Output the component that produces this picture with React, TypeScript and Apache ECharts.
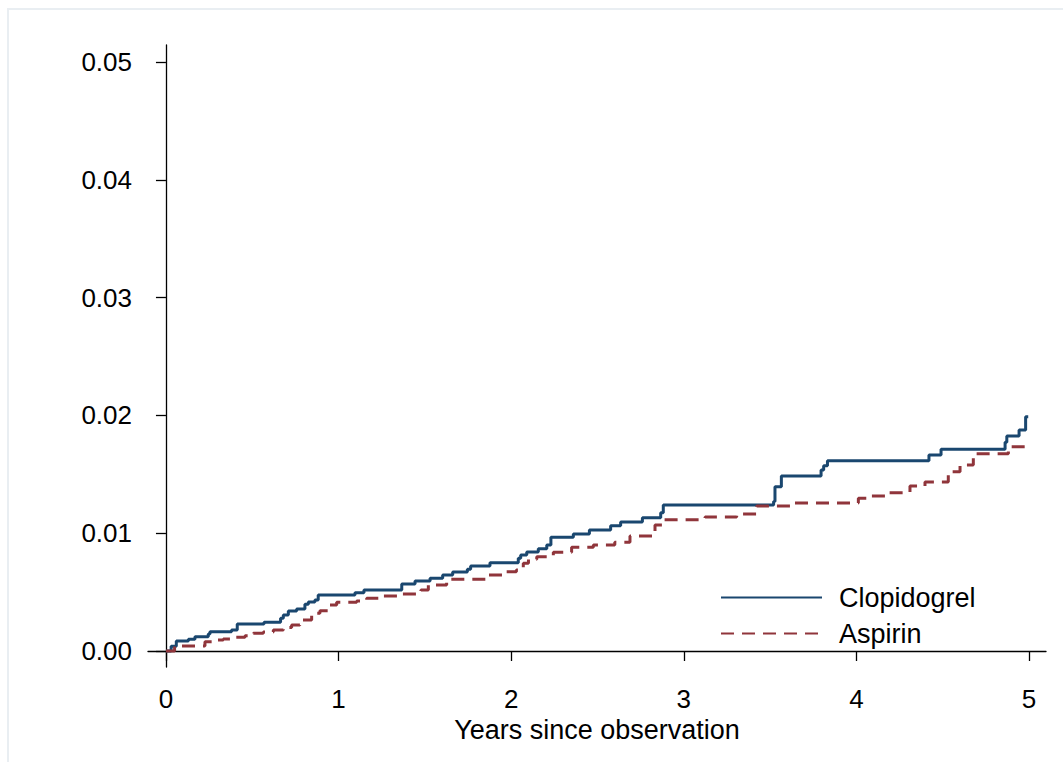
import React, { useEffect, useRef } from "react";
import * as echarts from "echarts";

const xTicks = [0, 1, 2, 3, 4, 5];
const yTicks = [0, 0.01, 0.02, 0.03, 0.04, 0.05];
const xAxisTitle = "Years since observation";
const seriesNames = ["Clopidogrel", "Aspirin"];

const clopidogrelTimes = [
  0, 0.03, 0.06, 0.13, 0.168, 0.245, 0.255, 0.38, 0.413, 0.568, 0.664, 0.68, 0.709, 0.757,
  0.805, 0.825, 0.863, 0.882, 1.095, 1.147, 1.366, 1.443, 1.53, 1.603, 1.661, 1.746, 1.765,
  1.877, 2.041, 2.055, 2.09, 2.157, 2.206, 2.23, 2.36, 2.453, 2.576, 2.634, 2.76, 2.866,
  2.881, 3.52, 3.528, 3.565, 3.795, 3.81, 3.832, 4.42, 4.49, 4.861, 4.871, 4.942, 4.98, 4.995,
];
const clopidogrelRisk = [
  0, 0.0004, 0.00085, 0.001, 0.0012, 0.00144, 0.00164, 0.00178, 0.00229, 0.00243, 0.00277,
  0.00306, 0.0034, 0.00357, 0.00396, 0.00416, 0.00433, 0.00475, 0.00495, 0.00518, 0.00569,
  0.00594, 0.00617, 0.00645, 0.0067, 0.00693, 0.00722, 0.0075, 0.00787, 0.00815, 0.0084,
  0.00868, 0.009, 0.00965, 0.00993, 0.01027, 0.01064, 0.01095, 0.01132, 0.01174, 0.0124,
  0.01268, 0.01395, 0.01486, 0.01537, 0.01573, 0.01615, 0.01664, 0.01712, 0.01772, 0.01825,
  0.01876, 0.01989, 0.01989,
];

const aspirinTimes = [
  0, 0.05, 0.226, 0.274, 0.332, 0.38, 0.458, 0.506, 0.564, 0.622, 0.68, 0.728, 0.776, 0.844,
  0.892, 0.95, 0.989, 1.105, 1.163, 1.24, 1.356, 1.477, 1.52, 1.626, 1.854, 1.958, 2.03, 2.07,
  2.1, 2.148, 2.244, 2.35, 2.476, 2.6, 2.688, 2.833, 2.881, 3.123, 3.306, 3.422, 3.635, 4.011,
  4.06, 4.185, 4.31, 4.397, 4.532, 4.6, 4.677, 4.88, 5.0,
];
const aspirinRisk = [
  0, 0.00042, 0.00079, 0.00093, 0.00102, 0.00116, 0.0013, 0.0015, 0.00161, 0.00178, 0.002,
  0.0022, 0.00263, 0.0032, 0.00342, 0.0039, 0.00413, 0.00424, 0.00447, 0.00467, 0.00484,
  0.00518, 0.0056, 0.00608, 0.00645, 0.00673, 0.00688, 0.00744, 0.00778, 0.008, 0.00838,
  0.0088, 0.009, 0.00922, 0.00976, 0.0107, 0.01115, 0.01138, 0.01162, 0.01231, 0.01256,
  0.01296, 0.01316, 0.01344, 0.014, 0.01435, 0.01522, 0.01579, 0.01675, 0.01734, 0.01734,
];

const pairs = (t: number[], v: number[]) => t.map((x, i) => [x, v[i]]);

const FONT = "Liberation Sans, Arial, Helvetica, sans-serif";
const BLUE = "#1a476f";
const RED = "#90353b";

export default function App() {
  const ref = useRef<HTMLDivElement>(null);
  useEffect(() => {
    if (!ref.current) return;
    const chart = echarts.init(ref.current, null, { renderer: "svg" });
    chart.setOption({
      animation: false,
      backgroundColor: "#ffffff",
      textStyle: { fontFamily: FONT },
      graphic: [
        {
          type: "rect",
          shape: { x: 8, y: 9, width: 1070, height: 770 },
          style: { fill: "none", stroke: "#e9eef2", lineWidth: 2 },
          silent: true,
        },
      ],
      grid: { left: 148, top: 45, right: 17, bottom: 95, containLabel: false },
      legend: {
        orient: "vertical",
        left: 720,
        top: 584,
        padding: 0,
        itemWidth: 101,
        itemHeight: 27,
        itemGap: 9,
        itemStyle: { opacity: 0, borderWidth: 0 },
        textStyle: { fontSize: 27, color: "#000", fontFamily: FONT, padding: [0, 0, 0, 12] },
        data: seriesNames,
      },
      xAxis: {
        type: "value",
        min: -0.104,
        max: 5.098,
        name: xAxisTitle,
        nameLocation: "middle",
        nameGap: 37,
        nameTextStyle: { fontSize: 27, color: "#000", fontFamily: FONT },
        splitLine: { show: false },
        axisLine: { show: true, lineStyle: { color: "#000", width: 1.3 } },
        axisTick: { show: true, length: 10, customValues: xTicks, lineStyle: { color: "#000", width: 1.3 } },
        axisLabel: {
          customValues: xTicks,
          fontSize: 26,
          color: "#000",
          fontFamily: FONT,
          margin: 19,
          formatter: (v: number) => String(v),
        },
      },
      yAxis: {
        type: "value",
        min: -0.00136,
        max: 0.05144,
        splitLine: { show: false },
        axisLine: { show: true, lineStyle: { color: "#000", width: 1.3 } },
        axisTick: { show: true, length: 10, customValues: yTicks, lineStyle: { color: "#000", width: 1.3 } },
        axisLabel: {
          customValues: yTicks,
          fontSize: 26,
          color: "#000",
          fontFamily: FONT,
          margin: 16,
          formatter: (v: number) => v.toFixed(2),
        },
      },
      series: [
        {
          name: seriesNames[0],
          type: "line",
          step: "end",
          symbol: "none",
          data: pairs(clopidogrelTimes, clopidogrelRisk),
          lineStyle: { color: BLUE, width: 3 },
          itemStyle: { color: BLUE },
        },
        {
          name: seriesNames[1],
          type: "line",
          step: "end",
          symbol: "none",
          data: pairs(aspirinTimes, aspirinRisk),
          lineStyle: { color: RED, width: 3, type: [13, 8] },
          itemStyle: { color: RED },
        },
      ],
    });
    return () => chart.dispose();
  }, []);
  return (
    <div
      ref={ref}
      style={{ position: "fixed", left: 0, top: 0, width: 1063, height: 762, background: "#fff" }}
    />
  );
}
